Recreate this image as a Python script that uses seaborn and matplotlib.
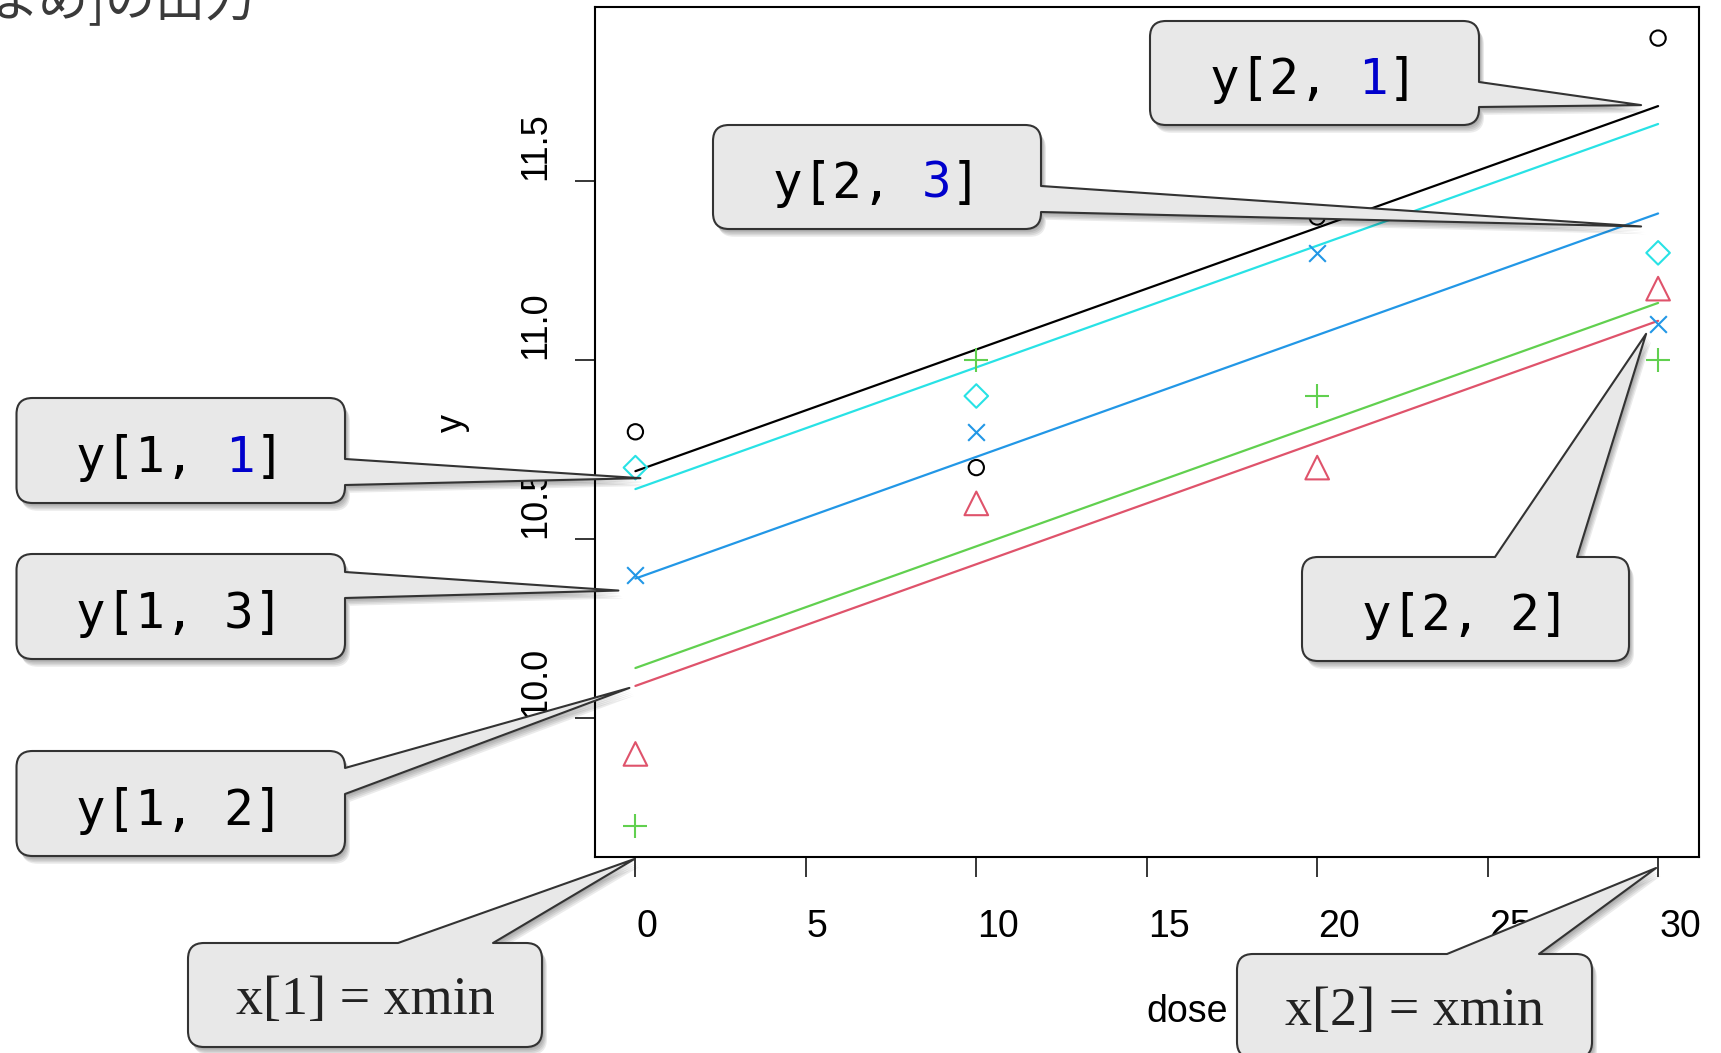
import numpy as np
import pandas as pd
import seaborn as sns
import matplotlib
matplotlib.use('Agg')
import matplotlib.pyplot as plt
from matplotlib.path import Path
from matplotlib.patches import PathPatch
from matplotlib.transforms import Affine2D
import matplotlib.patheffects as pe

# データ (5群 x dose 4水準)
dose = [0, 10, 20, 30]
groups = ['1', '2', '3', '4', '5']
y_g1 = [10.8, 10.7, 11.4, 11.9]
y_g2 = [9.9, 10.6, 10.7, 11.2]
y_g3 = [9.7, 11.0, 10.9, 11.0]
y_g4 = [10.4, 10.8, 11.3, 11.1]
y_g5 = [10.7, 10.9, 11.7, 11.3]

# 直線の端点: x[1], x[2] と y[1, j], y[2, j]
line_x = [0, 30]
line_y1 = [10.69, 10.09, 10.14, 10.39, 10.64]
line_y2 = [11.71, 11.11, 11.16, 11.41, 11.66]

xticks = [0, 5, 10, 15, 20, 25, 30]
yticks = [10.0, 10.5, 11.0, 11.5]
ytick_labels = ['10.0', '10.5', '11.0', '11.5']

colors = ['black', '#DF536B', '#61D04F', '#2297E6', '#28E2E5']
markers = ['o', '^', '+', 'x', 'D']
msize = [11, 17, 17, 12, 12]

W, H = 1721, 1053
sns.set_style('white')
plt.rcParams['font.family'] = ['Liberation Sans', 'DejaVu Sans']

fig = plt.figure(figsize=(W / 100, H / 100), dpi=100)
ax = fig.add_axes([594.5 / W, 1 - 857 / H, (1699 - 594.5) / W, (857 - 6.6) / H])

# 点
pts = pd.DataFrame({
    'dose': dose * 5,
    'y': y_g1 + y_g2 + y_g3 + y_g4 + y_g5,
    'grp': np.repeat(groups, 4),
})
for g, c, m, s in zip(groups, colors, markers, msize):
    d = pts[pts.grp == g]
    if m in ('+', 'x'):
        sns.scatterplot(data=d, x='dose', y='y', marker=m, s=s ** 2, color=c,
                        linewidth=1.5, ax=ax, zorder=3)
    else:
        sns.scatterplot(data=d, x='dose', y='y', marker=m, s=s ** 2, color=c,
                        facecolor='none', edgecolor=c, linewidth=1.5, ax=ax, zorder=3)

# 直線
lines = pd.DataFrame({
    'dose': line_x * 5,
    'y': [v for pair in zip(line_y1, line_y2) for v in pair],
    'grp': np.repeat(groups, 2),
})
sns.lineplot(data=lines, x='dose', y='y', hue='grp', palette=colors, legend=False,
             estimator=None, sort=False, lw=1.6, ax=ax)

# 軸 (R 風: 4% 拡張)
allv = pts['y']
pad = 0.04 * (allv.max() - allv.min())
ax.set_ylim(allv.min() - pad, allv.max() + pad)
ax.set_xlim(-0.04 * 30, 30 * 1.04)
ax.set_xticks(xticks)
ax.set_yticks(yticks)
ax.set_xlabel('')
ax.set_ylabel('')
ax.grid(False)
ax.tick_params(bottom=True, left=True, direction='out', length=14.4, width=1.1,
               color='black', labelbottom=False, labelleft=False)
for sp in ax.spines.values():
    sp.set_color('black')
    sp.set_linewidth(1.5)

# ピクセル座標 (左上原点)
px = Affine2D().scale(0.01, -0.01).translate(0, H / 100) + fig.dpi_scale_trans


def to_px(x, y):
    dx, dy = ax.transData.transform((x, y))
    return dx, H - dy


y0 = ax.get_ylim()[0]
xl = ax.get_xlim()
for t in xticks:
    tx, ty = to_px(t, y0)
    fig.text(tx + 1, ty + 80, str(t), transform=px, ha='left', va='baseline',
             fontsize=27, color='black')
for t, lab in zip(yticks, ytick_labels):
    tx, ty = to_px(xl[0], t)
    fig.text(545, ty - 1, lab, transform=px, ha='left', va='baseline',
             rotation=90, rotation_mode='anchor', fontsize=26, color='black')

cx, cy = to_px(np.mean(xl), np.mean(ax.get_ylim()))
fig.text(462, cy, 'y', transform=px, ha='left', va='baseline', rotation=90,
         rotation_mode='anchor', fontsize=26, color='black')
fig.text(cx, 1022, 'dose', transform=px, ha='left', va='baseline',
         fontsize=27, color='black')

# 上部の見出し (画像の上端で切れている)
fig.text(256, 16, 'まめ]の出力', transform=px, ha='right', va='baseline',
         fontsize=36, color='#3a3a3a', family=['Noto Sans CJK JP', 'DejaVu Sans'])


# 吹き出し
def callout_path(box, side, base, tip, r=16):
    x0, y0_, x1, y1 = box
    v, c = [], []

    def mv(p):
        v.append(p); c.append(Path.MOVETO)

    def ln(p):
        v.append(p); c.append(Path.LINETO)

    def qd(ctrl, p):
        v.extend([ctrl, p]); c.extend([Path.CURVE3, Path.CURVE3])

    mv((x0 + r, y0_))
    if side == 'top':
        ln((base[0], y0_)); ln(tip); ln((base[1], y0_))
    ln((x1 - r, y0_)); qd((x1, y0_), (x1, y0_ + r))
    if side == 'right':
        ln((x1, base[0])); ln(tip); ln((x1, base[1]))
    ln((x1, y1 - r)); qd((x1, y1), (x1 - r, y1))
    ln((x0 + r, y1)); qd((x0, y1), (x0, y1 - r))
    ln((x0, y0_ + r)); qd((x0, y0_), (x0 + r, y0_))
    v.append((0, 0)); c.append(Path.CLOSEPOLY)
    return Path(v, c)


blue = '#0000cc'
callouts = [
    ([('y[2, ', 'black'), ('1', blue), (']', 'black')], (1150, 21, 1479, 125), 'right', (82, 107), (30, line_y2[0]), (-17, -1)),
    ([('y[2, ', 'black'), ('3', blue), (']', 'black')], (713, 125, 1041, 229), 'right', (186, 212), (30, line_y2[3]), (-17, 13)),
    ([('y[2, 2]', 'black')], (1302, 557, 1629, 661), 'top', (1495, 1577), (30, line_y2[1]), (-12, 13)),
    ([('y[1, ', 'black'), ('1', blue), (']', 'black')], (16.5, 398, 345, 503), 'right', (459, 485), (0, line_y1[0]), (5, 7)),
    ([('y[1, 3]', 'black')], (16.5, 554, 345, 659), 'right', (572, 598), (0, line_y1[3]), (-17, 12)),
    ([('y[1, 2]', 'black')], (16.5, 751, 345, 856), 'right', (768, 794), (0, line_y1[1]), (-6, 2)),
    ('x[1] = xmin', (188, 943, 542, 1047), 'top', (398, 493), (line_x[0], y0), (-1, 2)),
    ('x[2] = xmin', (1237, 954, 1592, 1058), 'top', (1447, 1539), (line_x[1], y0), (-2, 11)),
]

shadow = [pe.SimplePatchShadow(offset=(0.8 + 0.7 * i, -1.2 - 1.1 * i), shadow_rgbFace='black', alpha=0.08)
          for i in range(5)] + [pe.Normal()]

mono_pt = 35.5
adv = 0.60205 * mono_pt * 100 / 72

for text, box, side, base, tipd, off in callouts:
    tx, ty = to_px(*tipd)
    tip = (tx + off[0], ty + off[1])
    patch = PathPatch(callout_path(box, side, base, tip), transform=px, facecolor='#e8e8e8',
                      edgecolor='#333333', lw=1.5, joinstyle='round', zorder=10)
    patch.set_path_effects(shadow)
    fig.add_artist(patch)
    if isinstance(text, str):
        fig.text((box[0] + box[2]) / 2, box[1] + 71, text, transform=px, ha='center', va='baseline',
                 fontsize=39, color='#222222', family=['Liberation Serif', 'DejaVu Serif'], zorder=11)
    else:
        left = box[0] + 60
        k = 0
        for piece, col in text:
            fig.text(left + k * adv, box[3] - 31, piece, transform=px, ha='left', va='baseline',
                     fontsize=mono_pt, color=col, family='DejaVu Sans Mono', zorder=11)
            k += len(piece)

fig.savefig('out.png', dpi=100)
